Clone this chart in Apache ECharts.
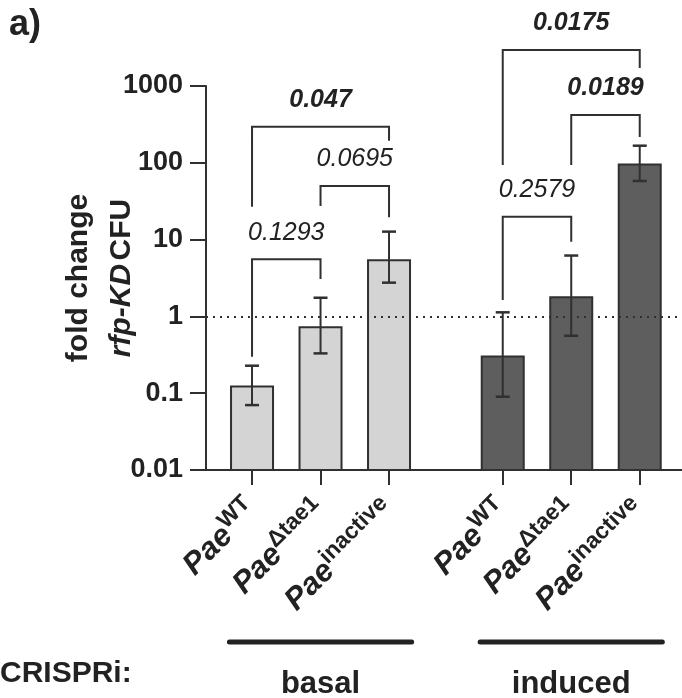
<!DOCTYPE html>
<html><head><meta charset="utf-8">
<script src="https://cdn.jsdelivr.net/npm/echarts@6/dist/echarts.min.js"></script>
<style>html,body{margin:0;padding:0;background:#fff}#c{width:682px;height:698px}</style>
</head><body><div id="c"></div>
<script>
// ---- data ----
const strains = ['WT', 'Δtae1', 'inactive', 'WT', 'Δtae1', 'inactive'];
const groupOf = [0, 0, 0, 1, 1, 1];
const groups = ['basal', 'induced'];
const foldChange = [0.122, 0.72, 5.4, 0.30, 1.77, 95];
const errLow = [0.070, 0.33, 2.75, 0.090, 0.56, 58];
const errHigh = [0.228, 1.75, 12.7, 1.13, 6.2, 167];
const yTicks = [0.01, 0.1, 1, 10, 100, 1000];
const refLine = 1;
// pairwise comparisons
const cmpFrom = [0, 1, 0, 3, 4, 3];
const cmpTo = [1, 2, 2, 4, 5, 5];
const pValues = ['0.1293', '0.0695', '0.047', '0.2579', '0.0189', '0.0175'];
const cmpTop = [5.54, 50, 295, 19.9, 419, 2944];
const cmpLegFrom = [0.298, 27.4, 26.8, 1.64, 93.6, 93.6];
const cmpLegTo = [3.07, 19.5, 194, 9.4, 217, 1715];

// ---- layout / style ----
const FONT = '"Liberation Sans", Arial, Helvetica, sans-serif';
const INK = '#222222';
const LINE = '#303030';
const GROUP_GAP = 0.66;
const pos = strains.map((s, i) => i + groupOf[i] * GROUP_GAP);
const barFill = ['#d4d4d4', '#5e5e5e'];
const BAR_W = 42;

const chart = echarts.init(document.getElementById('c'), null, {renderer: 'canvas'});

function labelFor(v) {
  for (let i = 0; i < pos.length; i++) {
    if (Math.abs(pos[i] - v) < 1e-6) return '{p|Pae}{s|' + strains[i] + '}';
  }
  return '';
}

function renderBar(params, api) {
  const i = params.dataIndex;
  const x = api.value(0);
  const top = api.coord([x, api.value(1)]);
  const base = api.coord([x, yTicks[0]]);
  return {
    type: 'rect',
    shape: {x: top[0] - BAR_W / 2, y: top[1], width: BAR_W, height: base[1] - top[1]},
    style: {fill: barFill[groupOf[i]], stroke: LINE, lineWidth: 2}
  };
}

function renderErr(params, api) {
  const x = api.value(0);
  const lo = api.coord([x, api.value(1)]);
  const hi = api.coord([x, api.value(2)]);
  const c = 7;
  return {
    type: 'group',
    children: [
      {type: 'line', shape: {x1: lo[0], y1: lo[1], x2: hi[0], y2: hi[1]}, style: {stroke: LINE, lineWidth: 2}},
      {type: 'line', shape: {x1: lo[0] - c, y1: lo[1], x2: lo[0] + c, y2: lo[1]}, style: {stroke: LINE, lineWidth: 2.5}},
      {type: 'line', shape: {x1: hi[0] - c, y1: hi[1], x2: hi[0] + c, y2: hi[1]}, style: {stroke: LINE, lineWidth: 2.5}}
    ]
  };
}

function renderCmp(params, api) {
  const k = params.dataIndex;
  const x1 = api.value(0), x2 = api.value(1);
  const a = api.coord([x1, api.value(2)]);
  const b = api.coord([x2, api.value(2)]);
  const l1 = api.coord([x1, api.value(3)]);
  const l2 = api.coord([x2, api.value(4)]);
  const bold = parseFloat(pValues[k]) < 0.05;
  return {
    type: 'group',
    children: [
      {type: 'polyline', shape: {points: [[a[0], l1[1]], [a[0], a[1]], [b[0], b[1]], [b[0], l2[1]]]},
       style: {stroke: LINE, lineWidth: 2, fill: null}},
      {type: 'text', x: (a[0] + b[0]) / 2, y: a[1] - 26.5,
       style: {text: pValues[k], fill: INK, align: 'center', verticalAlign: 'middle',
               font: 'italic ' + (bold ? 'bold ' : '') + '25px ' + FONT}}
    ]
  };
}

function renderGroup(params, api) {
  const k = params.dataIndex;
  const s = api.coord([api.value(0) - 0.33, yTicks[0]]);
  const e = api.coord([api.value(1) + 0.33, yTicks[0]]);
  const y = s[1] + 172;
  return {
    type: 'group',
    children: [
      {type: 'line', shape: {x1: s[0], y1: y, x2: e[0], y2: y}, style: {stroke: INK, lineWidth: 5, lineCap: 'round'}},
      {type: 'text', x: (s[0] + e[0]) / 2, y: y + 42,
       style: {text: groups[k], fill: INK, align: 'center', verticalAlign: 'middle', font: 'bold 31px ' + FONT}}
    ]
  };
}

const groupData = groups.map((g, k) => {
  const idx = pos.filter((p, i) => groupOf[i] === k);
  return [Math.min(...idx), Math.max(...idx)];
});

chart.setOption({
  animation: false,
  backgroundColor: '#ffffff',
  grid: {left: 206, right: 0, top: 86, bottom: 228, containLabel: false, outerBoundsMode: 'none'},
  xAxis: {
    type: 'value', min: -0.672, max: 6.277,
    splitLine: {show: false},
    axisLine: {show: true, onZero: false, lineStyle: {color: LINE, width: 2}},
    axisTick: {show: true, customValues: pos, length: 15, lineStyle: {color: LINE, width: 2}},
    axisLabel: {
      show: true, customValues: pos, rotate: 45, margin: 35,
      formatter: labelFor,
      rich: {
        p: {fontFamily: FONT, fontSize: 31, fontWeight: 'bold', fontStyle: 'italic', color: INK, lineHeight: 34, verticalAlign: 'bottom'},
        s: {fontFamily: FONT, fontSize: 23, fontWeight: 'bold', color: INK, lineHeight: 23, padding: [0, 0, 13, 0], verticalAlign: 'bottom'}
      }
    }
  },
  yAxis: {
    type: 'log', logBase: 10, min: 0.01, max: 1000,
    splitLine: {show: false},
    axisLine: {show: true, onZero: false, lineStyle: {color: LINE, width: 2}},
    axisTick: {show: true, length: 16, lineStyle: {color: LINE, width: 2}},
    axisLabel: {
      margin: 23, color: INK, fontFamily: FONT, fontSize: 27, fontWeight: 'bold',
      formatter: v => {
        let best = yTicks[0];
        yTicks.forEach(t => { if (Math.abs(Math.log10(t) - Math.log10(v)) < Math.abs(Math.log10(best) - Math.log10(v))) best = t; });
        return String(best);
      }
    },
    name: '{a|fold change}\n{i|rfp-KD} {a|CFU}',
    nameLocation: 'middle', nameRotate: 90, nameGap: 63, nameMoveOverlap: false,
    nameTextStyle: {
      rich: {
        a: {fontFamily: FONT, fontSize: 30, fontWeight: 'bold', color: INK, lineHeight: 43},
        i: {fontFamily: FONT, fontSize: 30, fontWeight: 'bold', fontStyle: 'italic', color: INK, lineHeight: 43}
      }
    }
  },
  graphic: [
    {type: 'text', left: 9, top: 7, style: {text: 'a)', font: 'bold 36px ' + FONT, fill: INK}},
    {type: 'text', left: 0, top: 659, style: {text: 'CRISPRi:', font: 'bold 30px ' + FONT, fill: INK}}
  ],
  series: [
    {
      type: 'line', data: [], z: 1, silent: true,
      markLine: {
        silent: true, symbol: 'none', label: {show: false},
        lineStyle: {type: [2, 5], width: 2, color: LINE},
        data: [{yAxis: refLine}]
      }
    },
    {type: 'custom', z: 2, renderItem: renderBar, encode: {x: 0, y: 1},
     data: pos.map((p, i) => [p, foldChange[i]])},
    {type: 'custom', z: 3, renderItem: renderErr, encode: {x: 0, y: [1, 2]},
     data: pos.map((p, i) => [p, errLow[i], errHigh[i]])},
    {type: 'custom', z: 3, clip: false, renderItem: renderCmp, encode: {x: [0, 1], y: [2, 3, 4]},
     data: pValues.map((p, k) => [pos[cmpFrom[k]], pos[cmpTo[k]], cmpTop[k], cmpLegFrom[k], cmpLegTo[k]])},
    {type: 'custom', z: 3, clip: false, renderItem: renderGroup, encode: {x: [0, 1]},
     data: groupData}
  ]
});
</script>
</body></html>
